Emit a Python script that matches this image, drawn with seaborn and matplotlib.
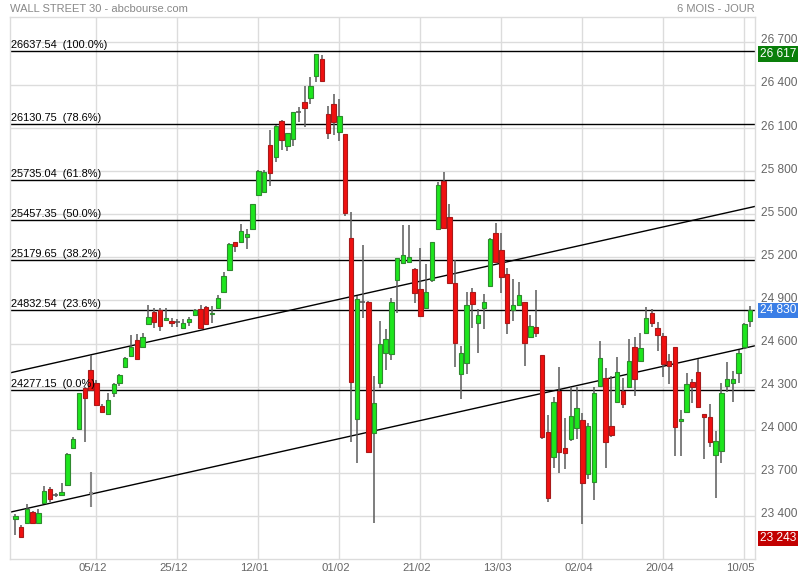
import numpy as np
import pandas as pd
import matplotlib
matplotlib.use("Agg")
import matplotlib.pyplot as plt
import matplotlib.transforms as mtransforms
import seaborn as sns

# ---------------- data ----------------
start_date = "2017-11-15"
n_days = 128

opens = [23377, 23321, 23353, 23428, 23353, 23488, 23586, 23546, 23544, 23614,
         23871, 24003, 24289, 24416, 24328, 24166, 24108, 24258, 24328, 24439,
         24516, 24625, 24574, 24734, 24822, 24834, 24764, 24757, 24748, 24706,
         24752, 24797, 24839, 24853, 24804, 24846, 24957, 25112, 25305, 25305,
         25340, 25396, 25632, 25657, 25980, 25901, 26149, 25977, 26022, 26210,
         26282, 26307, 26463, 26581, 26198, 26268, 26075, 26057, 25335, 24073,
         24887, 24892, 23980, 24328, 24532, 24525, 25043, 25159, 25170, 25119,
         24980, 24846, 25043, 25396, 25730, 25479, 25020, 24386, 24463, 24957,
         24745, 24846, 25001, 25368, 25251, 25084, 24832, 24867, 24887, 24644,
         24715, 24521, 23982, 23813, 24270, 23871, 23938, 24015, 24068, 23690,
         23639, 24305, 24363, 24026, 24191, 24270, 24296, 24574, 24479, 24672,
         24811, 24706, 24653, 24479, 24574, 24059, 24122, 24331, 24402, 24108,
         24087, 23822, 23855, 24307, 24328, 24393, 24578, 24759]
closes = [23400, 23256, 23447, 23349, 23419, 23576, 23516, 23546, 23569, 23832,
          23936, 24254, 24219, 24277, 24173, 24126, 24207, 24319, 24379, 24498,
          24574, 24495, 24644, 24783, 24748, 24720, 24776, 24746, 24748, 24741,
          24769, 24834, 24711, 24734, 24815, 24915, 25071, 25293, 25279, 25384,
          25361, 25570, 25801, 25792, 25785, 26115, 26015, 26064, 26210, 26210,
          26242, 26393, 26614, 26430, 26068, 26144, 26184, 25511, 24335, 24908,
          24887, 23848, 24184, 24597, 24630, 24887, 25194, 25215, 25205, 24954,
          24792, 24957, 25305, 25702, 25403, 25020, 24602, 24532, 24867, 24874,
          24797, 24887, 25326, 25170, 25061, 24745, 24867, 24936, 24602, 24722,
          24672, 23948, 23523, 24196, 23848, 23836, 24096, 24150, 23632, 24026,
          24254, 24498, 23917, 23964, 24402, 24177, 24479, 24351, 24567, 24776,
          24741, 24658, 24456, 24444, 24017, 24075, 24317, 24300, 24157, 24087,
          23913, 23922, 24254, 24351, 24354, 24532, 24736, 24830]
highs = [23414, 23337, 23481, 23435, 23447, 23611, 23602, 23560, 23630, 23838,
         23950, 24256, 24298, 24521, 24346, 24180, 24258, 24326, 24388, 24507,
         24660, 24667, 24672, 24869, 24846, 24848, 24846, 24776, 24771, 24769,
         24787, 24841, 24869, 24862, 24862, 24938, 25096, 25297, 25307, 25432,
         25398, 25572, 25808, 25808, 26087, 26121, 26156, 26066, 26212, 26249,
         26390, 26458, 26617, 26609, 26256, 26337, 26302, 26059, 25514, 24931,
         25286, 24896, 24374, 24757, 24702, 24919, 25196, 25426, 25426, 25126,
         25263, 25154, 25307, 25727, 25794, 25572, 25182, 24583, 24957, 24989,
         24839, 24943, 25335, 25442, 25368, 25124, 25050, 25027, 24889, 24799,
         24973, 24521, 24103, 24230, 24439, 24080, 24300, 24300, 24115, 24049,
         24300, 24618, 24428, 24374, 24505, 24358, 24630, 24644, 24672, 24857,
         24841, 24752, 24672, 24528, 24576, 24138, 24393, 24354, 24491, 24110,
         24180, 23992, 24324, 24470, 24409, 24555, 24743, 24862]
lows = [23268, 23243, 23351, 23344, 23351, 23484, 23497, 23532, 23543, 23609,
        23866, 24002, 23917, 24273, 24166, 24117, 24106, 24226, 24305, 24437,
        24514, 24493, 24569, 24733, 24711, 24690, 24757, 24713, 24718, 24705,
        24725, 24792, 24708, 24729, 24741, 24844, 24956, 25112, 25235, 25304,
        25256, 25394, 25631, 25655, 25699, 25866, 25948, 25943, 25977, 26144,
        26110, 26266, 26423, 26428, 26026, 26052, 26012, 25490, 23917, 23771,
        24780, 23840, 23353, 24289, 24416, 24486, 24811, 25154, 25161, 24880,
        24789, 24841, 25027, 25394, 25398, 25015, 24439, 24212, 24386, 24706,
        24532, 24700, 24997, 25168, 24950, 24665, 24757, 24862, 24446, 24639,
        24648, 23934, 23500, 23732, 23701, 23725, 23924, 23934, 23344, 23657,
        23511, 24301, 23732, 23952, 24190, 24150, 24294, 24237, 24475, 24670,
        24718, 24551, 24370, 24319, 23820, 23820, 24120, 24189, 24155, 23797,
        23882, 23527, 23771, 24265, 24196, 24324, 24562, 24718]

# stray grey tick (04/12)
stray_date = ["04/12"]
stray_high = [23708]
stray_low = [23465]
stray_mark = [23560]

fib_levels = [26637.54, 26130.75, 25735.04, 25457.35, 25179.65, 24832.54, 24277.15]
fib_pcts = ["100.0%", "78.6%", "61.8%", "50.0%", "38.2%", "23.6%", "0.0%"]

# trend channel anchors (first and last session)
trend_upper = [24404, 25547]
trend_lower = [23434, 24577]

date_labels = ["05/12", "25/12", "12/01", "01/02", "21/02", "13/03", "02/04", "20/04", "10/05"]
price_ticks = [23400, 23700, 24000, 24300, 24600, 24900, 25200, 25500, 25800, 26100, 26400, 26700]

period_high = 26617
period_low = 23243
last_price = 24830

# ---------------- frame ----------------
df = pd.DataFrame({"date": pd.bdate_range(start_date, periods=n_days),
                   "open": opens, "high": highs, "low": lows, "close": closes})
df["idx"] = np.arange(len(df))
df["lbl"] = df["date"].dt.strftime("%d/%m")
df["kind"] = np.where(df["close"] > df["open"], "up",
                      np.where(df["close"] < df["open"], "down", "flat"))

sns.set_style("white")
plt.rcParams["font.family"] = ["Liberation Sans", "DejaVu Sans"]

fig = plt.figure(figsize=(8, 5.8), dpi=100)
ax = fig.add_axes([10 / 800, 21 / 580, 745 / 800, 542 / 580])

GREEN, GREEN_E = "#1ee61e", "#2f8a2f"
RED, RED_E = "#f01010", "#a81a1a"
WICK = "#5a5a5a"
GRID = "#dcdcdc"

# grid
for p in price_ticks:
    ax.axhline(p, color=GRID, lw=1, zorder=0)
tick_idx = [int(df.index[df["lbl"] == l][0]) for l in date_labels]
for t in tick_idx:
    ax.axvline(t, color=GRID, lw=1, zorder=0)

# fib lines
for lvl, pct in zip(fib_levels, fib_pcts):
    ax.axhline(lvl, color="black", lw=1, zorder=1)
    ax.annotate(f"{lvl:.2f}  ({pct})", xy=(0, lvl), xycoords=("axes fraction", "data"),
                xytext=(0.5, 0.8), textcoords="offset points", ha="left", va="bottom",
                fontsize=7.9, color="black", zorder=5)

# trend channel
ax.axline((0, trend_upper[0]), (n_days - 1, trend_upper[1]), color="black", lw=1, zorder=1)
ax.axline((0, trend_lower[0]), (n_days - 1, trend_lower[1]), color="black", lw=1, zorder=1)

# wicks
ax.vlines(df["idx"], df["low"], df["high"], color=WICK, lw=1.1, zorder=2)

w = 0.76
up = df[df["kind"] == "up"]
dn = df[df["kind"] == "down"]
fl = df[df["kind"] == "flat"]
ax.bar(up["idx"], up["close"] - up["open"], bottom=up["open"], width=w,
       color=GREEN, edgecolor=GREEN_E, lw=0.8, zorder=3)
ax.bar(dn["idx"], dn["open"] - dn["close"], bottom=dn["close"], width=w,
       color=RED, edgecolor=RED_E, lw=0.8, zorder=3)
ax.hlines(fl["close"], fl["idx"] - 0.45, fl["idx"] + 0.45, color=WICK, lw=1.2, zorder=3)

# stray grey tick
s_idx = [int(df.index[df["lbl"] == l][0]) for l in stray_date]
ax.vlines(s_idx, stray_low, stray_high, color="#888888", lw=1.5, zorder=2)
ax.hlines(stray_mark, np.array(s_idx) - 0.35, np.array(s_idx) + 0.35, color="#888888", lw=1.5, zorder=2)

# limits
ax.set_xlim(-0.92, 127.82)
ax.set_ylim(23100, 26873)

# axes styling
for sp in ax.spines.values():
    sp.set_color(GRID)
    sp.set_linewidth(1)

ax.yaxis.tick_right()
ax.set_yticks(price_ticks)
ax.set_yticklabels([f"{p:,}".replace(",", " ") for p in price_ticks])
ax.tick_params(axis="y", length=0, pad=4, labelsize=8.6, labelcolor="#666666")
for lab in ax.get_yticklabels():
    lab.set_transform(lab.get_transform() + mtransforms.ScaledTranslation(0, 3 / 100, fig.dpi_scale_trans))
ax.set_xticks(tick_idx)
ax.set_xticklabels(date_labels)
ax.tick_params(axis="x", length=0, pad=3, labelsize=8.2, labelcolor="#666666")
for lab in ax.get_xticklabels():
    lab.set_fontfamily(["Liberation Sans Narrow", "Liberation Sans"])
    lab.set_transform(lab.get_transform() + mtransforms.ScaledTranslation(-4 / 100, 0, fig.dpi_scale_trans))
ax.set_xlabel("")
ax.set_ylabel("")

# highlighted prices on the right
trans = mtransforms.blended_transform_factory(ax.transAxes, ax.transData)
for val, col in [(period_high, "#0a7f0a"), (last_price, "#3a7ee6"), (period_low, "#c20000")]:
    ax.text(1 + 5 / 745, val, f"{val:,}".replace(",", " "), transform=trans,
            ha="left", va="center", fontsize=8.6, color="white", zorder=6, clip_on=False,
            bbox=dict(boxstyle="square,pad=0.15", facecolor=col, edgecolor="none"))

# header
fig.text(10 / 800, 1 - 9 / 580, "WALL STREET 30 - abcbourse.com", ha="left", va="center",
         fontsize=8, color="#888888")
fig.text(755 / 800, 1 - 9 / 580, "6 MOIS - JOUR", ha="right", va="center",
         fontsize=8, color="#888888")

fig.savefig("out.png", dpi=100, facecolor="white")
